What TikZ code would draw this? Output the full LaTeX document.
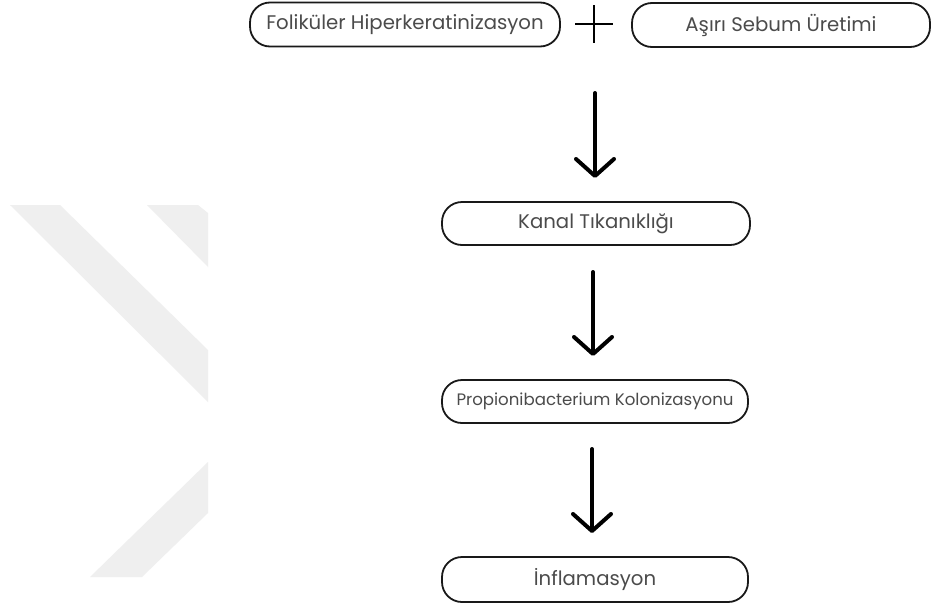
\documentclass[tikz,border=0pt]{standalone}
\usepackage{fontspec}
\setmainfont{Poppins}
\usetikzlibrary{arrows.meta}
\definecolor{wm}{RGB}{239,239,239}
\definecolor{txt}{RGB}{75,75,75}
\tikzset{
  pill/.style={draw=black!90, line width=1.8pt, rounded corners=20pt, fill=white,
    inner sep=0pt, text=txt, font=\fontsize{19.7}{22}\selectfont},
  flowarrow/.style={line width=4pt, line cap=round, black,
    -{Straight Barb[length=17pt,width=38pt,round,line width'=4pt]}},
  plusline/.style={line width=1.8pt, black},
}
\begin{document}
\begin{tikzpicture}[x=1pt,y=-1pt]
\useasboundingbox[fill=white] (0,0) rectangle (933,608);
% watermark
\fill[wm] (10,205) -- (60,205) -- (208,350) -- (208,402) -- cycle;
\fill[wm] (147,205) -- (198,205) -- (208,213) -- (208,267) -- cycle;
\fill[wm] (90,577) -- (142,577) -- (208,513) -- (208,462) -- cycle;
% boxes
\node[pill, minimum width=310pt, minimum height=44pt] (fol) at (405,24.5) {Foliküler Hiperkeratinizasyon};
\node[pill, minimum width=298pt, minimum height=44pt] (seb) at (781,25) {Aşırı Sebum Üretimi};
\node[pill, minimum width=308pt, minimum height=43pt] (kan) at (596,223.5) {Kanal Tıkanıklığı};
\node[pill, minimum width=306pt, minimum height=43pt, font=\fontsize{16.6}{19}\selectfont] (pro) at (595,401.5) {Propionibacterium Kolonizasyonu};
\node[pill, minimum width=306pt, minimum height=45pt] (inf) at (595,579.5) {İnflamasyon};
% plus
\coordinate (plus) at (594,24);
\draw[plusline] ([xshift=-19pt]plus) -- ([xshift=19pt]plus);
\draw[plusline] ([yshift=19pt]plus) -- ([yshift=-19pt]plus);
% arrows
\coordinate (a1s) at (595,93);  \coordinate (a1e) at (595,178);
\coordinate (a2s) at (593,272); \coordinate (a2e) at (593,356);
\coordinate (a3s) at (592,449); \coordinate (a3e) at (592,533);
\draw[flowarrow] (a1s) -- (a1e);
\draw[flowarrow] (a2s) -- (a2e);
\draw[flowarrow] (a3s) -- (a3e);
\end{tikzpicture}
\end{document}
